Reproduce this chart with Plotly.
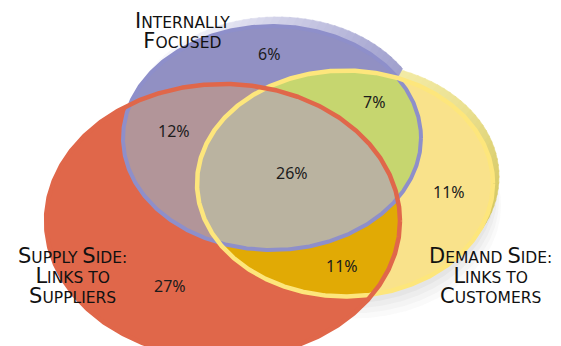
import numpy as np
import plotly.graph_objects as go

# ---------------- data ----------------
set_labels = ["Internally Focused", "Supply Side: Links to Suppliers", "Demand Side: Links to Customers"]
set_lines = [["Internally", "Focused"], ["Supply Side:", "Links to", "Suppliers"], ["Demand Side:", "Links to", "Customers"]]
region_names = ["Internal only", "Internal & Demand", "Internal & Supply", "All three",
                "Demand only", "Supply & Demand", "Supply only"]
region_values = [6, 7, 12, 26, 11, 11, 27]

# ---------------- layout constants ----------------
W, H = 561, 346
# cx, cy, rx, ry, rotation(deg)  -- pixel space, y downward
ELL = {
    "blue": (272, 138, 149, 112, 0),
    "red": (223, 221, 177, 137, 0),
    "yellow": (345, 183.5, 148, 113, 0),
}
region_pos = {
    "Internal only": (269, 54), "Internal & Demand": (374, 102), "Internal & Supply": (174, 130.5),
    "All three": (292, 173), "Demand only": (449, 192), "Supply & Demand": (342, 266),
    "Supply only": (170, 285.5),
}
label_pos = [(182, 31, "center"), (72, 276, "center"), (490, 276, "center")]

COL = {
    "red": "#e0674a", "blue": "#9190c3", "yellow": "#f9e28b",
    "br": "#b29599", "by": "#c6d66f", "ry": "#e1aa05", "bry": "#bab3a0",
    "ring_blue": "#8e8fca", "ring_red": "#e0674a", "ring_yellow": "#fde67c",
}


def ell_pts(e, n=720, t0=0.0, t1=2 * np.pi, offset=(0, 0), endpoint=True):
    cx, cy, rx, ry, rot = e
    t = np.linspace(t0, t1, n, endpoint=endpoint)
    c, s = np.cos(np.radians(rot)), np.sin(np.radians(rot))
    x, y = rx * np.cos(t), ry * np.sin(t)
    return cx + x * c - y * s + offset[0], cy + x * s + y * c + offset[1]


def inside(e, X, Y):
    cx, cy, rx, ry, rot = e
    c, s = np.cos(np.radians(rot)), np.sin(np.radians(rot))
    dx, dy = X - cx, Y - cy
    u, v = dx * c + dy * s, -dx * s + dy * c
    return (u / rx) ** 2 + (v / ry) ** 2 <= 1 + 1e-9


def intersection(keys):
    xs, ys = [], []
    for k in keys:
        X, Y = ell_pts(ELL[k], 1440, endpoint=False)
        m = np.ones_like(X, dtype=bool)
        for k2 in keys:
            if k2 != k:
                m &= inside(ELL[k2], X, Y)
        xs.append(X[m]); ys.append(Y[m])
    X, Y = np.concatenate(xs), np.concatenate(ys)
    mx, my = X.mean(), Y.mean()
    o = np.argsort(np.arctan2(Y - my, X - mx))
    return X[o], Y[o]


def hex2rgb(h):
    h = h.lstrip("#")
    return np.array([int(h[i:i + 2], 16) for i in (0, 2, 4)], float)


def grad(stops, t):
    ts = [s[0] for s in stops]
    cs = [hex2rgb(s[1]) for s in stops]
    r = [np.interp(t, ts, [c[i] for c in cs]) for i in range(3)]
    return "rgb(%d,%d,%d)" % tuple(int(round(v)) for v in r)


fig = go.Figure()


def poly(X, Y, color, lw=0):
    fig.add_trace(go.Scatter(x=list(X), y=list(Y), mode="lines", fill="toself", fillcolor=color,
                             line=dict(width=lw, color=color), hoverinfo="skip", showlegend=False))


def rim(e, d, tstart, tend, stops, step=3.0):
    a = tstart
    while a < tend:
        b = min(a + step, tend)
        ta, tb = np.radians(a - 0.4), np.radians(b + 0.4)
        xi, yi = ell_pts(e, 12, ta, tb)
        xo, yo = ell_pts(e, 12, tb, ta, offset=d)
        col = grad(stops, (a + b) / 2)
        poly(np.concatenate([xi, xo]), np.concatenate([yi, yo]), col, lw=0.6)
        a = b


# soft shadow beneath yellow set
for off, alpha in [((2, 7), 0.05), ((4, 12), 0.045), ((6, 17), 0.04), ((8, 22), 0.03)]:
    X, Y = ell_pts(ELL["yellow"], 360, offset=off)
    poly(X, Y, "rgba(90,90,90,%.3f)" % alpha)

# 3D rims
rim(ELL["yellow"], (6, -7), -75, 40,
    [(-75, "#f4eca9"), (-40, "#ebe192"), (-10, "#ddd173"), (20, "#d5c862"), (40, "#d9cd6b")])
rim(ELL["blue"], (5, -9), -160, -33,
    [(-160, "#ffffff"), (-125, "#f3f3f9"), (-100, "#dcdcee"), (-70, "#c0c0df"), (-45, "#a8a8d2"), (-33, "#a0a0cd")])

# main fills
for k in ["red", "blue", "yellow"]:
    X, Y = ell_pts(ELL[k])
    poly(X, Y, COL[k])
for keys, c in [(("blue", "red"), "br"), (("blue", "yellow"), "by"), (("red", "yellow"), "ry"),
                (("blue", "red", "yellow"), "bry")]:
    X, Y = intersection(keys)
    poly(X, Y, COL[c])

# outlines
for k, w in [("blue", 4), ("yellow", 4.5), ("red", 4.5)]:
    X, Y = ell_pts(ELL[k])
    fig.add_trace(go.Scatter(x=list(X), y=list(Y), mode="lines",
                             line=dict(width=w, color=COL["ring_" + k]),
                             hoverinfo="skip", showlegend=False))

# region value labels
for name, v in zip(region_names, region_values):
    x, y = region_pos[name]
    fig.add_annotation(x=x, y=y, text=f"{v}%", showarrow=False, xanchor="center", yanchor="middle",
                       font=dict(family="Noto Sans", size=16, color="#1c1c1c"))


def smallcaps(line, big=21, small=15.5):
    out = []
    for ch in line:
        if ch.isupper():
            out.append(f"<span style='font-size:{big}px'>{ch}</span>")
        else:
            out.append(ch.upper())
    return "".join(out)


for lines, (x, y, al) in zip(set_lines, label_pos):
    txt = "<br>".join(smallcaps(l) for l in lines)
    fig.add_annotation(x=x, y=y, text=txt, showarrow=False, xanchor="center", yanchor="middle", align=al,
                       font=dict(family="DejaVu Sans", size=15.5, color="#111111"))

fig.update_layout(
    width=W, height=H, autosize=False, margin=dict(l=0, r=0, t=0, b=0),
    paper_bgcolor="white", plot_bgcolor="white",
    xaxis=dict(range=[0, W], visible=False, fixedrange=True),
    yaxis=dict(range=[H, 0], visible=False, fixedrange=True),
)
fig.write_html("out.html")
